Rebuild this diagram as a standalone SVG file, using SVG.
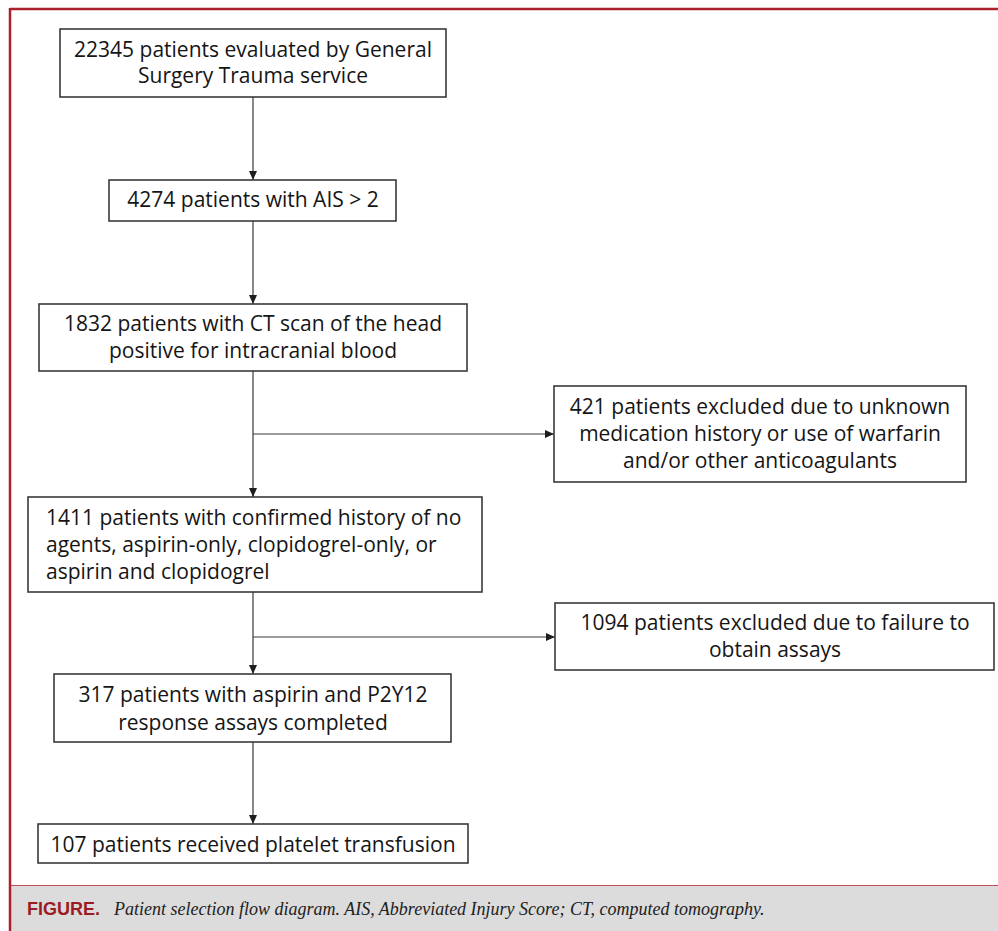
<svg xmlns="http://www.w3.org/2000/svg" width="998" height="931" viewBox="0 0 998 931">
<style>
.box{fill:#fff;stroke:#3a3a3a;stroke-width:1.6}
.t{font-family:"Open Sans","Liberation Sans",sans-serif;font-size:21px;fill:#151515;text-anchor:middle}
.tl{text-anchor:start}
.c{stroke:#3a3a3a;stroke-width:1.2;fill:none}
</style>
<defs>
<marker id="ah" markerWidth="9" markerHeight="8" refX="9" refY="4" orient="auto" markerUnits="userSpaceOnUse">
<path d="M0,0 L9,4 L0,8 Z" fill="#1e1e1e"/>
</marker>
</defs>
<rect width="998" height="931" fill="#fff"/>
<rect x="11" y="886" width="987" height="45" fill="#dcdcdc"/>
<line x1="11" y1="885.5" x2="998" y2="885.5" stroke="#c0505a" stroke-width="1.2"/>
<line x1="10" y1="9" x2="998" y2="9" stroke="#ab2129" stroke-width="2.5"/>
<line x1="10" y1="8" x2="10" y2="931" stroke="#ab2129" stroke-width="2.5"/>
<text x="27" y="915" font-family="Liberation Sans,sans-serif" font-weight="bold" font-size="18" fill="#9b1b22">FIGURE.</text>
<text x="114" y="915" font-family="Liberation Serif,serif" font-style="italic" font-size="18" fill="#222">Patient selection flow diagram. AIS, Abbreviated Injury Score; CT, computed tomography.</text>

<g id="connectors">
<line class="c" x1="253" y1="97" x2="253" y2="180" marker-end="url(#ah)"/>
<line class="c" x1="253" y1="221" x2="253" y2="304" marker-end="url(#ah)"/>
<line class="c" x1="253" y1="371" x2="253" y2="497" marker-end="url(#ah)"/>
<line class="c" x1="253" y1="434" x2="554" y2="434" marker-end="url(#ah)"/>
<line class="c" x1="253" y1="592" x2="253" y2="674" marker-end="url(#ah)"/>
<line class="c" x1="253" y1="637" x2="555" y2="637" marker-end="url(#ah)"/>
<line class="c" x1="253" y1="742" x2="253" y2="824" marker-end="url(#ah)"/>
</g>

<g id="n1">
<rect class="box" x="60" y="29" width="386" height="68"/>
<text class="t" x="253" y="57">22345 patients evaluated by General</text>
<text class="t" x="253" y="83">Surgery Trauma service</text>
</g>
<g id="n2">
<rect class="box" x="109" y="180" width="287" height="41"/>
<text class="t" x="253" y="207">4274 patients with AIS &gt; 2</text>
</g>
<g id="n3">
<rect class="box" x="39" y="304" width="428" height="67"/>
<text class="t" x="253" y="331">1832 patients with CT scan of the head</text>
<text class="t" x="253" y="358">positive for intracranial blood</text>
</g>
<g id="n4">
<rect class="box" x="554" y="386" width="412" height="96"/>
<text class="t" x="760" y="414">421 patients excluded due to unknown</text>
<text class="t" x="760" y="441">medication history or use of warfarin</text>
<text class="t" x="760" y="468">and/or other anticoagulants</text>
</g>
<g id="n5">
<rect class="box" x="28" y="497" width="454" height="95"/>
<text class="t tl" x="46" y="525">1411 patients with confirmed history of no</text>
<text class="t tl" x="46" y="552">agents, aspirin-only, clopidogrel-only, or</text>
<text class="t tl" x="46" y="579">aspirin and clopidogrel</text>
</g>
<g id="n6">
<rect class="box" x="555" y="603" width="439" height="67"/>
<text class="t" x="775" y="630">1094 patients excluded due to failure to</text>
<text class="t" x="775" y="657">obtain assays</text>
</g>
<g id="n7">
<rect class="box" x="54" y="674" width="397" height="68"/>
<text class="t" x="253" y="702">317 patients with aspirin and P2Y12</text>
<text class="t" x="253" y="730">response assays completed</text>
</g>
<g id="n8">
<rect class="box" x="38" y="824" width="430" height="39"/>
<text class="t" x="253" y="852">107 patients received platelet transfusion</text>
</g>
</svg>
